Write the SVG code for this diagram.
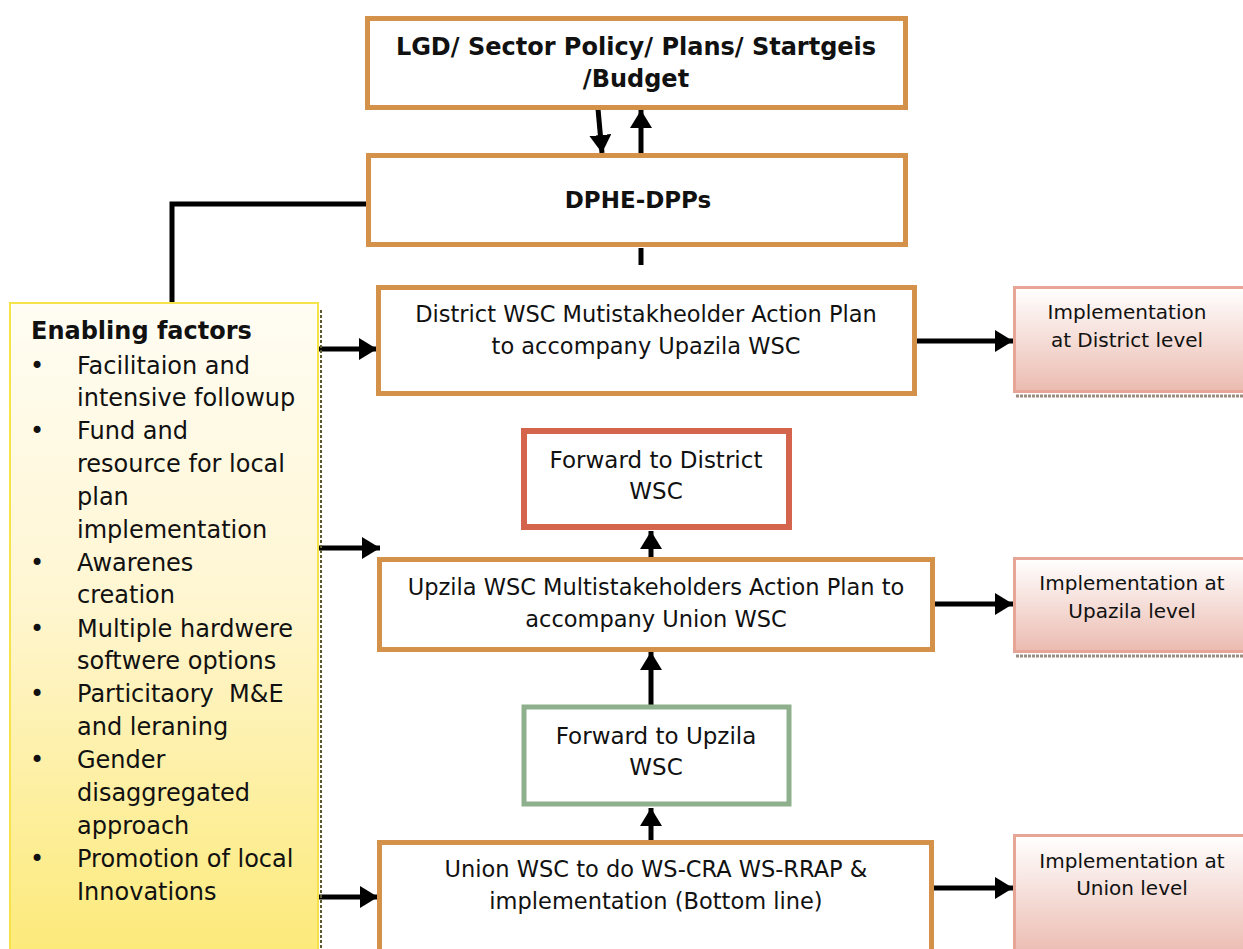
<svg xmlns="http://www.w3.org/2000/svg" width="1243" height="949" viewBox="0 0 1243 949">
  <style>
    text { font-family: "DejaVu Sans", Verdana, sans-serif; fill: #111; }
    .b { font-weight: bold; }
    .c { text-anchor: middle; }
    .box { fill: #fff; stroke: #D3914A; stroke-width: 5; }
    .impl { fill: url(#implFill); stroke: #E6A596; stroke-width: 3; }
    .shadow { stroke: #9C8C80; stroke-width: 3; stroke-dasharray: 3 1; fill: none; }
    .conn { stroke: #000; stroke-width: 5; fill: none; }
    .arr { stroke: #000; stroke-width: 5; fill: none; marker-end: url(#head); }
  </style>
  <defs>
    <linearGradient id="implFill" x1="0" y1="0" x2="0" y2="1">
      <stop offset="0" stop-color="#FFFFFF"/>
      <stop offset="1" stop-color="#EBBBB0"/>
    </linearGradient>
    <linearGradient id="enableFill" x1="0" y1="0" x2="0" y2="1">
      <stop offset="0" stop-color="#FFFDF4"/>
      <stop offset="0.45" stop-color="#FFF6D2"/>
      <stop offset="1" stop-color="#FCEA7A"/>
    </linearGradient>
    <marker id="head" markerUnits="userSpaceOnUse" markerWidth="20" markerHeight="22" refX="18" refY="11" orient="auto">
      <path d="M0,0 L18,11 L0,22 Z" fill="#000"/>
    </marker>
  </defs>

  <!-- connectors -->
  <g id="connectors">
    <line class="arr" x1="598" y1="109" x2="602" y2="153"/>
    <line class="arr" x1="641" y1="153" x2="641" y2="110"/>
    <line class="conn" x1="641" y1="248" x2="641" y2="265"/>
    <polyline class="conn" points="366,204 172,204 172,302"/>
    <line class="arr" x1="319" y1="349" x2="377" y2="349"/>
    <line class="arr" x1="319" y1="548" x2="380" y2="548"/>
    <line class="arr" x1="319" y1="897" x2="378" y2="897"/>
    <line class="arr" x1="917" y1="341" x2="1013" y2="341"/>
    <line class="arr" x1="935" y1="604" x2="1013" y2="604"/>
    <line class="arr" x1="934" y1="888" x2="1013" y2="888"/>
    <line class="arr" x1="651" y1="557" x2="651" y2="531"/>
    <line class="arr" x1="651" y1="705" x2="651" y2="652"/>
    <line class="arr" x1="651" y1="840" x2="651" y2="808"/>
  </g>

  <g id="lgd">
    <rect class="box" x="367.5" y="18.5" width="538" height="89"/>
    <text class="b c" x="636" y="55" font-size="24">LGD/ Sector Policy/ Plans/ Startgeis</text>
    <text class="b c" x="636" y="87" font-size="24">/Budget</text>
  </g>

  <g id="dphe">
    <rect class="box" x="368.5" y="155.5" width="537" height="89"/>
    <text class="b c" x="638" y="208" font-size="23">DPHE-DPPs</text>
  </g>

  <g id="enabling">
    <line x1="321" y1="310" x2="321" y2="949" stroke="#5E5A30" stroke-width="2" stroke-dasharray="3 2"/>
    <rect x="10" y="303" width="308" height="650" fill="url(#enableFill)" stroke="#F6E34A" stroke-width="2"/>
    <text class="b" x="31" y="339" font-size="24">Enabling factors</text>
    <g font-size="24">
      <text x="30" y="374">•</text>
      <text x="77" y="374">Facilitaion and</text>
      <text x="77" y="406">intensive followup</text>
      <text x="30" y="439">•</text>
      <text x="77" y="439">Fund and</text>
      <text x="77" y="472">resource for local</text>
      <text x="77" y="505">plan</text>
      <text x="77" y="538">implementation</text>
      <text x="30" y="571">•</text>
      <text x="77" y="571">Awarenes</text>
      <text x="77" y="603">creation</text>
      <text x="30" y="637">•</text>
      <text x="77" y="637">Multiple hardwere</text>
      <text x="77" y="669">softwere options</text>
      <text x="30" y="702">•</text>
      <text x="77" y="702" xml:space="preserve">Particitaory  M&amp;E</text>
      <text x="77" y="735">and leraning</text>
      <text x="30" y="768">•</text>
      <text x="77" y="768">Gender</text>
      <text x="77" y="801">disaggregated</text>
      <text x="77" y="834">approach</text>
      <text x="30" y="867">•</text>
      <text x="77" y="867">Promotion of local</text>
      <text x="77" y="900">Innovations</text>
    </g>
  </g>

  <g id="district-plan">
    <rect class="box" x="378.5" y="287.5" width="536" height="106"/>
    <text class="c" x="646" y="322" font-size="22.5">District WSC Mutistakheolder Action Plan</text>
    <text class="c" x="646" y="354" font-size="22.5">to accompany Upazila WSC</text>
  </g>

  <g id="impl-district">
    <line class="shadow" x1="1016" y1="396" x2="1243" y2="396"/>
    <rect class="impl" x="1014.5" y="287.5" width="232" height="104"/>
    <text class="c" x="1127" y="319" font-size="20">Implementation</text>
    <text class="c" x="1127" y="347" font-size="20">at District level</text>
  </g>

  <g id="forward-district">
    <rect x="524" y="431" width="265" height="96" fill="#fff" stroke="#D4644C" stroke-width="6"/>
    <text class="c" x="656" y="468" font-size="23">Forward to District</text>
    <text class="c" x="656" y="499" font-size="23">WSC</text>
  </g>

  <g id="upazila-plan">
    <rect class="box" x="379.5" y="559.5" width="553" height="90"/>
    <text class="c" x="656" y="595" font-size="22.5">Upzila WSC Multistakeholders Action Plan to</text>
    <text class="c" x="656" y="627" font-size="22.5">accompany Union WSC</text>
  </g>

  <g id="impl-upazila">
    <line class="shadow" x1="1016" y1="656" x2="1243" y2="656"/>
    <rect class="impl" x="1014.5" y="558.5" width="232" height="93"/>
    <text class="c" x="1132" y="590" font-size="20">Implementation at</text>
    <text class="c" x="1132" y="618" font-size="20">Upazila level</text>
  </g>

  <g id="forward-upzila">
    <rect x="524" y="707" width="265" height="97" fill="#fff" stroke="#8FB08C" stroke-width="5"/>
    <text class="c" x="656" y="744" font-size="23">Forward to Upzila</text>
    <text class="c" x="656" y="775" font-size="23">WSC</text>
  </g>

  <g id="union-plan">
    <rect class="box" x="379.5" y="842.5" width="552" height="112"/>
    <text class="c" x="656" y="877" font-size="22.5">Union WSC to do WS-CRA WS-RRAP &amp;</text>
    <text class="c" x="656" y="909" font-size="22.5">implementation (Bottom line)</text>
  </g>

  <g id="impl-union">
    <rect class="impl" x="1014.5" y="835.5" width="232" height="120"/>
    <text class="c" x="1132" y="868" font-size="20">Implementation at</text>
    <text class="c" x="1132" y="895" font-size="20">Union level</text>
  </g>
</svg>
